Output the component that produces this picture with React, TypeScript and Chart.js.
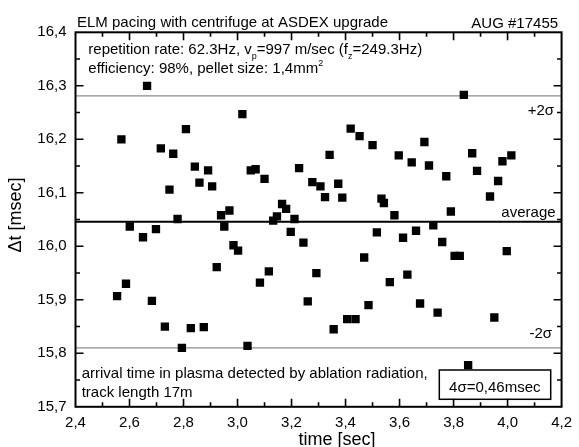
import React, { useEffect, useRef } from 'react';
import { Chart, registerables } from 'chart.js';

Chart.register(...registerables);

const FONT = "'Liberation Sans', Arial, Helvetica, sans-serif";

const TIMES = [
  2.554, 2.570, 2.587, 2.601, 2.650, 2.665, 2.683, 2.698, 2.716, 2.731,
  2.748, 2.762, 2.778, 2.794, 2.809, 2.827, 2.842, 2.859, 2.875, 2.891,
  2.906, 2.923, 2.939, 2.951, 2.970, 2.985, 3.002, 3.018, 3.037, 3.049,
  3.067, 3.083, 3.100, 3.116, 3.132, 3.146, 3.165, 3.180, 3.197, 3.211,
  3.228, 3.244, 3.260, 3.277, 3.292, 3.307, 3.324, 3.341, 3.356, 3.373,
  3.388, 3.406, 3.419, 3.437, 3.452, 3.469, 3.485, 3.500, 3.516, 3.533,
  3.542, 3.564, 3.581, 3.597, 3.613, 3.629, 3.645, 3.661, 3.676, 3.692,
  3.709, 3.725, 3.741, 3.758, 3.773, 3.790, 3.804, 3.823, 3.838, 3.854,
  3.869, 3.887, 3.935, 3.951, 3.965, 3.981, 3.997, 4.014,
];

const DELTA_T = [
  15.907, 16.200, 15.930, 16.037, 16.017, 16.300, 15.898, 16.032, 16.183, 15.850,
  16.106, 16.173, 16.051, 15.810, 16.219, 15.847, 16.149, 16.119, 15.849, 16.142,
  16.112, 15.961, 16.058, 16.037, 16.067, 16.002, 15.992, 16.247, 15.814, 16.142,
  16.144, 15.932, 16.126, 15.953, 16.048, 16.056, 16.079, 16.070, 16.027, 16.051,
  16.146, 16.007, 15.897, 16.120, 15.950, 16.112, 16.092, 16.171, 15.845, 16.117,
  16.091, 15.864, 16.220, 15.864, 16.206, 15.979, 15.890, 16.189, 16.026, 16.089,
  16.081, 15.933, 16.058, 16.170, 16.016, 15.947, 16.157, 16.029, 15.893, 16.195,
  16.151, 16.039, 15.876, 16.008, 16.131, 16.065, 15.982, 15.982, 16.283, 15.778,
  16.174, 16.141, 16.093, 15.867, 16.122, 16.159, 15.991, 16.170,
];

const AVERAGE = 16.046;
const PLUS_2SIGMA = 16.281;
const MINUS_2SIGMA = 15.81;

const X_MIN = 2.4;
const X_MAX = 4.2;
const X_MAJOR = 0.2;
const X_MINOR = 0.1;
const Y_MIN = 15.7;
const Y_MAX = 16.4;
const Y_MAJOR = 0.1;
const Y_MINOR = 0.05;

const TITLE = 'ELM pacing with centrifuge at ASDEX upgrade';
const SHOT = 'AUG #17455';
const X_TITLE = 'time [sec]';
const Y_TITLE = '\u0394t [msec]';
const LABEL_PLUS = '+2\u03c3';
const LABEL_AVG = 'average';
const LABEL_MINUS = '-2\u03c3';
const NOTE_1 = 'arrival time in plasma detected by ablation radiation,';
const NOTE_2 = 'track length 17m';
const BOX_TEXT = '4\u03c3=0,46msec';

type Part = { t: string; size: number; dy: number };

const INFO_1: Part[] = [
  { t: 'repetition rate: 62.3Hz, v', size: 15, dy: 0 },
  { t: 'p', size: 9, dy: 5 },
  { t: '=997 m/sec (f', size: 15, dy: 0 },
  { t: 'z', size: 9, dy: 5 },
  { t: '=249.3Hz)', size: 15, dy: 0 },
];
const INFO_2: Part[] = [
  { t: 'efficiency: 98%, pellet size: 1,4mm', size: 15, dy: 0 },
  { t: '2', size: 9, dy: -7 },
];

function fmt(v: number) {
  return v.toFixed(1).replace('.', ',');
}

function drawRich(ctx: CanvasRenderingContext2D, x: number, y: number, parts: Part[]) {
  let cx = x;
  for (const p of parts) {
    ctx.font = `${p.size}px ${FONT}`;
    ctx.fillText(p.t, cx, y + p.dy);
    cx += ctx.measureText(p.t).width;
  }
}

const decorPlugin = {
  id: 'decor',
  afterDraw(chart: any) {
    const ctx: CanvasRenderingContext2D = chart.ctx;
    const { left, right, top, bottom } = chart.chartArea;
    const xs = chart.scales.x;
    const ys = chart.scales.y;
    ctx.save();
    ctx.strokeStyle = '#000';
    ctx.fillStyle = '#000';

    // ticks (inward)
    ctx.lineWidth = 1.6;
    const nx = Math.round((X_MAX - X_MIN) / X_MINOR);
    const majorEvery = Math.round(X_MAJOR / X_MINOR);
    for (let i = 1; i < nx; i++) {
      const px = xs.getPixelForValue(X_MIN + i * X_MINOR);
      const len = i % majorEvery === 0 ? 8 : 4.5;
      ctx.beginPath();
      ctx.moveTo(px, bottom);
      ctx.lineTo(px, bottom - len);
      ctx.moveTo(px, top);
      ctx.lineTo(px, top + len);
      ctx.stroke();
    }
    const ny = Math.round((Y_MAX - Y_MIN) / Y_MINOR);
    const yMajorEvery = Math.round(Y_MAJOR / Y_MINOR);
    for (let i = 1; i < ny; i++) {
      const py = ys.getPixelForValue(Y_MIN + i * Y_MINOR);
      const len = i % yMajorEvery === 0 ? 8 : 4.5;
      ctx.beginPath();
      ctx.moveTo(left, py);
      ctx.lineTo(left + len, py);
      ctx.moveTo(right, py);
      ctx.lineTo(right - len, py);
      ctx.stroke();
    }

    // frame
    ctx.lineWidth = 2;
    ctx.strokeRect(left, top, right - left, bottom - top);

    // titles
    ctx.textBaseline = 'alphabetic';
    ctx.textAlign = 'left';
    ctx.font = `15px ${FONT}`;
    ctx.fillText(TITLE, left + 1.5, 26.5);
    ctx.textAlign = 'right';
    ctx.fillText(SHOT, right - 3.5, 28.3);

    // info text
    ctx.textAlign = 'left';
    drawRich(ctx, left + 12.8, 54.3, INFO_1);
    drawRich(ctx, left + 12.8, 73.3, INFO_2);

    // line labels
    ctx.font = `15px ${FONT}`;
    ctx.textAlign = 'right';
    ctx.fillText(LABEL_PLUS, right - 7.5, 115);
    ctx.fillText(LABEL_AVG, right - 6, 216.5);
    ctx.fillText(LABEL_MINUS, right - 9.5, 337.7);

    // notes
    ctx.textAlign = 'left';
    ctx.fillText(NOTE_1, left + 6.2, 377.7);
    ctx.fillText(NOTE_2, left + 6.2, 396.7);

    // box
    ctx.lineWidth = 1.5;
    ctx.strokeRect(439.3, 370, 111.4, 29.3);
    ctx.textAlign = 'center';
    ctx.fillText(BOX_TEXT, 494.8, 392.3);

    // axis titles
    ctx.font = `18px ${FONT}`;
    ctx.textAlign = 'center';
    ctx.fillText(X_TITLE, 337, 445);
    ctx.save();
    ctx.translate(21, 215);
    ctx.rotate(-Math.PI / 2);
    ctx.fillText(Y_TITLE, 0, 0);
    ctx.restore();

    ctx.restore();
  },
};

export default function App() {
  const canvasRef = useRef<HTMLCanvasElement | null>(null);

  useEffect(() => {
    const canvas = canvasRef.current;
    if (!canvas) return;
    const points = TIMES.map((t, i) => ({ x: t, y: DELTA_T[i] }));
    const hline = (v: number) => [
      { x: X_MIN, y: v },
      { x: X_MAX, y: v },
    ];
    const chart = new Chart(canvas, {
      type: 'scatter',
      data: {
        datasets: [
          {
            label: '+2sigma',
            data: hline(PLUS_2SIGMA),
            showLine: true,
            borderColor: '#8c8c8c',
            borderWidth: 1.3,
            pointRadius: 0,
            order: 3,
          },
          {
            label: '-2sigma',
            data: hline(MINUS_2SIGMA),
            showLine: true,
            borderColor: '#8c8c8c',
            borderWidth: 1.3,
            pointRadius: 0,
            order: 3,
          },
          {
            label: 'average',
            data: hline(AVERAGE),
            showLine: true,
            borderColor: '#000',
            borderWidth: 2,
            pointRadius: 0,
            order: 2,
          },
          {
            label: 'dt',
            data: points,
            pointStyle: 'rect',
            pointRadius: 5.9,
            pointBorderWidth: 0,
            borderWidth: 0,
            backgroundColor: '#000',
            pointBackgroundColor: '#000',
            order: 0,
          },
        ],
      },
      options: {
        responsive: false,
        animation: false,
        events: [],
        layout: { padding: { top: 32.3, right: 11.5, left: 0, bottom: 0 } },
        plugins: {
          legend: { display: false },
          tooltip: { enabled: false },
          title: { display: false },
        },
        scales: {
          x: {
            type: 'linear',
            min: X_MIN,
            max: X_MAX,
            grid: { display: false, drawTicks: false },
            border: { display: false },
            ticks: {
              stepSize: X_MAJOR,
              padding: 7,
              color: '#000',
              font: { family: FONT, size: 15 },
              callback: (v: any) => fmt(Number(v)),
              maxRotation: 0,
              autoSkip: false,
            },
            afterFit: (s: any) => {
              s.height = 40.2;
            },
          },
          y: {
            type: 'linear',
            min: Y_MIN,
            max: Y_MAX,
            grid: { display: false, drawTicks: false },
            border: { display: false },
            ticks: {
              stepSize: Y_MAJOR,
              padding: 9,
              color: '#000',
              font: { family: FONT, size: 15 },
              callback: (v: any) => fmt(Number(v)),
              autoSkip: false,
            },
            afterFit: (s: any) => {
              s.width = 75.5;
            },
          },
        },
      },
      plugins: [decorPlugin],
    } as any);
    return () => chart.destroy();
  }, []);

  return (
    <div style={{ position: 'absolute', left: 0, top: 0, width: 579, height: 447, background: '#fff' }}>
      <canvas ref={canvasRef} width={579} height={447} style={{ display: 'block', width: 579, height: 447 }} />
    </div>
  );
}
